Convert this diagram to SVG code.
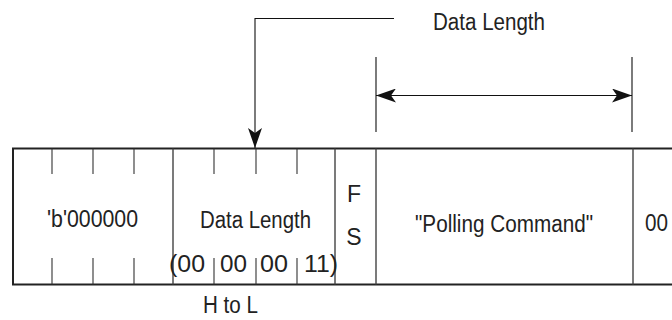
<svg xmlns="http://www.w3.org/2000/svg" width="672" height="320" viewBox="0 0 672 320">
<defs>
<style>
.t{font-family:"Liberation Sans",Arial,sans-serif;font-size:23px;fill:#222;}
.frame{stroke:#222;stroke-width:2;fill:none;}
.div{stroke:#444;stroke-width:1.4;fill:none;}
.tick{stroke:#333;stroke-width:1.1;fill:none;}
.ln{stroke:#111;stroke-width:1.1;fill:none;}
</style>
<marker id="ah" viewBox="0 0 20 14" refX="20" refY="7" markerWidth="20" markerHeight="14" markerUnits="userSpaceOnUse" orient="auto-start-reverse">
<path d="M0,0 L20,7 L0,14 L5,7 Z" fill="#111"/>
</marker>
</defs>
<rect width="672" height="320" fill="#fff"/>
<g id="frame">
<path class="frame" d="M672,148.5 H13 V284.5 H672"/>
<path class="div" d="M173,148.5 V284.5 M335,148.5 V284.5 M376,148.5 V284.5 M633,148.5 V284.5"/>
<path class="tick" d="M52,148.5 V174 M93,148.5 V174 M134,148.5 V174 M52,258 V284.5 M93,258 V284.5 M134,258 V284.5"/>
<path class="tick" d="M214,148.5 V174 M256,148.5 V174 M297,148.5 V174 M214,258 V284.5 M256,258 V284.5 M297,258 V284.5"/>
</g>
<g id="field-header">
<text class="t" x="47" y="227" textLength="91" lengthAdjust="spacingAndGlyphs">'b'000000</text>
</g>
<g id="field-datalength">
<text class="t" x="200" y="228" textLength="111" lengthAdjust="spacingAndGlyphs">Data Length</text>
<text class="t" x="169" y="272" textLength="36" lengthAdjust="spacingAndGlyphs">(00</text>
<text class="t" x="220" y="272" textLength="27" lengthAdjust="spacingAndGlyphs">00</text>
<text class="t" x="260" y="272" textLength="28" lengthAdjust="spacingAndGlyphs">00</text>
<text class="t" x="304" y="272" textLength="34" lengthAdjust="spacingAndGlyphs">11)</text>
<text class="t" x="203" y="313" textLength="55" lengthAdjust="spacingAndGlyphs">H to L</text>
</g>
<g id="field-fs">
<text class="t" x="354" y="202" text-anchor="middle">F</text>
<text class="t" x="354" y="245" text-anchor="middle">S</text>
</g>
<g id="field-command">
<text class="t" x="415" y="232" textLength="178" lengthAdjust="spacingAndGlyphs">"Polling Command"</text>
</g>
<g id="field-end">
<text class="t" x="645" y="231" textLength="23" lengthAdjust="spacingAndGlyphs">00</text>
</g>
<g id="label-datalength">
<text class="t" x="433" y="30" textLength="112" lengthAdjust="spacingAndGlyphs">Data Length</text>
</g>
<g id="connectors">
<path class="ln" d="M394,18.5 H255 V148" marker-end="url(#ah)"/>
<path class="ln" d="M376,57 V132 M632,57 V132"/>
<path class="ln" d="M376,95.5 H632" marker-start="url(#ah)" marker-end="url(#ah)"/>
</g>
</svg>
